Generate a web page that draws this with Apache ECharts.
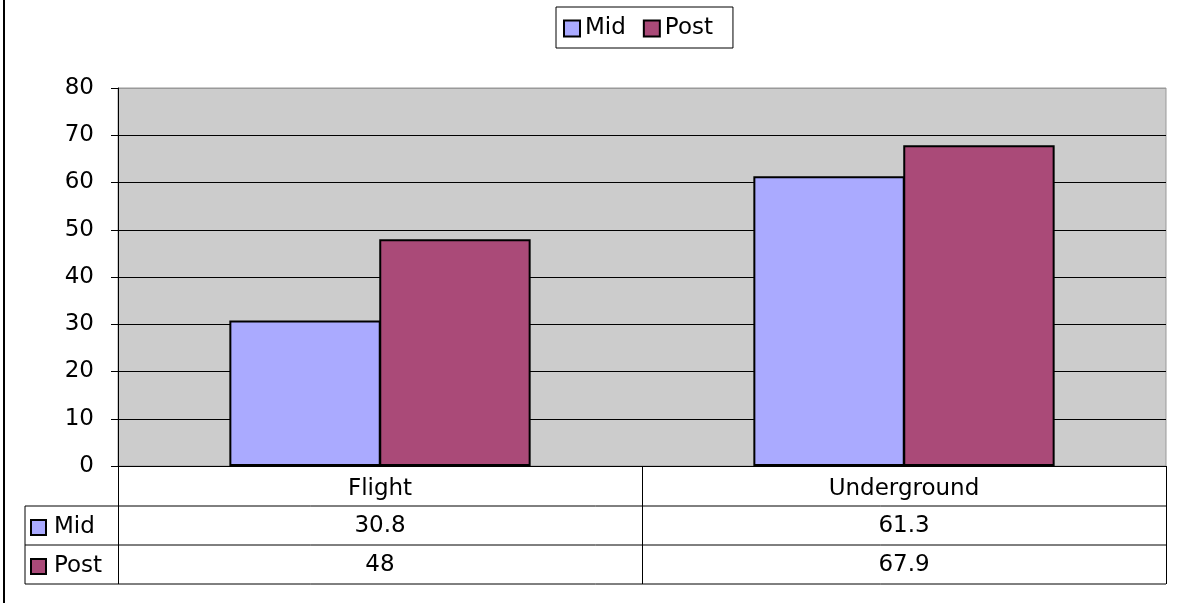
<!DOCTYPE html>
<html>
<head>
<meta charset="utf-8">
<script src="https://cdn.jsdelivr.net/npm/echarts@6/dist/echarts.min.js"></script>
<style>
  html, body { margin: 0; padding: 0; background: #fff; }
  #main { width: 1182px; height: 603px; }
</style>
</head>
<body>
<div id="main"></div>
<script>
// data
var categories = ["Flight", "Underground"];
var seriesNames = ["Mid", "Post"];
var midValues = [30.8, 61.3];
var postValues = [48, 67.9];
var colors = ["#AAAAFF", "#AA4A78"];

var FONT = "DejaVu Sans";
var FS = 23;
var chart = echarts.init(document.getElementById("main"));

// gridline colours: black, top one grey like the plot border
var gridColors = ["#000", "#000", "#000", "#000", "#000", "#000", "#000", "#000", "#999"];

// table rows: legend key + name in the left column
var rowKeys = [];
seriesNames.forEach(function (name, i) {
  var cy = 527 + i * 39;
  rowKeys.push({
    type: "rect",
    shape: { x: 31, y: cy - 7, width: 15, height: 15 },
    style: { fill: colors[i], stroke: "#000", lineWidth: 2 }
  });
  rowKeys.push({
    type: "text",
    x: 54, y: cy,
    style: { text: name, font: FS + "px " + FONT, fill: "#000", verticalAlign: "middle" }
  });
});

var tableLines = [506, 545, 584].map(function (y) {
  return { type: "line", shape: { x1: 25, y1: y, x2: 1166, y2: y }, style: { stroke: "#000", lineWidth: 1 } };
});

var option = {
  animation: false,
  backgroundColor: "#fff",
  textStyle: { fontFamily: FONT },
  legend: {
    data: seriesNames,
    left: 556,
    top: 7,
    padding: [10, 20, 8, 7],
    itemGap: 17,
    itemWidth: 16,
    itemHeight: 16,
    icon: "rect",
    borderColor: "#000",
    borderWidth: 1,
    textStyle: { fontFamily: FONT, fontSize: FS, color: "#000" }
  },
  grid: {
    left: 118, right: 16, top: 88, bottom: 137,
    show: true,
    backgroundColor: "#CCCCCC",
    borderColor: "#999",
    borderWidth: 1
  },
  xAxis: [
    {
      type: "category",
      data: categories,
      axisLine: { lineStyle: { color: "#000", width: 1 } },
      axisTick: { show: true, length: 118, lineStyle: { color: "#000" } },
      axisLabel: { margin: 12, fontSize: FS, fontFamily: FONT, color: "#000" }
    },
    {
      type: "category",
      data: categories,
      position: "bottom",
      offset: 40,
      axisLine: { show: false },
      axisTick: { show: false },
      axisLabel: {
        margin: 9, fontSize: FS, fontFamily: FONT, color: "#000",
        formatter: function (v, i) { return String(midValues[i]); }
      }
    },
    {
      type: "category",
      data: categories,
      position: "bottom",
      offset: 79,
      axisLine: { show: false },
      axisTick: { show: false },
      axisLabel: {
        margin: 9, fontSize: FS, fontFamily: FONT, color: "#000",
        formatter: function (v, i) { return String(postValues[i]); }
      }
    }
  ],
  yAxis: {
    type: "value",
    min: 0, max: 80, interval: 10,
    axisLine: { show: true, lineStyle: { color: "#000" } },
    axisTick: { show: true, length: 7, lineStyle: { color: "#000" } },
    axisLabel: { margin: 24, fontSize: FS, fontFamily: FONT, color: "#000" },
    splitLine: { show: true, lineStyle: { color: gridColors, width: 1 } }
  },
  series: [
    {
      name: seriesNames[0],
      type: "bar",
      data: midValues,
      barGap: "-1%",
      barCategoryGap: "42.5%",
      itemStyle: { color: colors[0], borderColor: "#000", borderWidth: 2 }
    },
    {
      name: seriesNames[1],
      type: "bar",
      data: postValues,
      itemStyle: { color: colors[1], borderColor: "#000", borderWidth: 2 }
    }
  ],
  graphic: [
    { type: "line", shape: { x1: 4, y1: 0, x2: 4, y2: 603 }, style: { stroke: "#000", lineWidth: 2 } },
    { type: "line", shape: { x1: 25, y1: 506, x2: 25, y2: 584 }, style: { stroke: "#000", lineWidth: 1 } }
  ].concat(tableLines, rowKeys)
};

chart.setOption(option);
</script>
</body>
</html>
